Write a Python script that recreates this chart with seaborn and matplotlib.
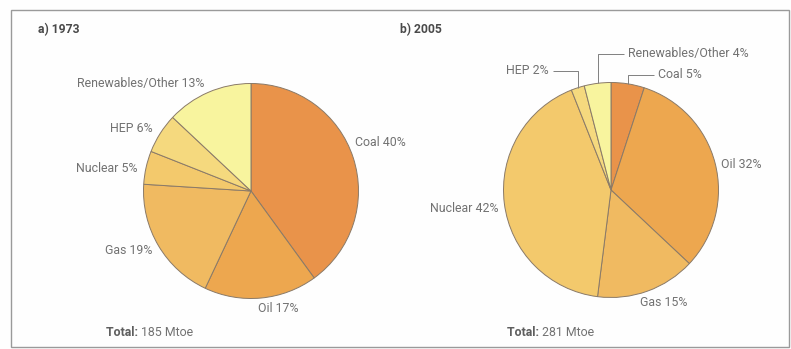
import numpy as np
import matplotlib
matplotlib.use("Agg")
import matplotlib.pyplot as plt
from matplotlib.patches import Rectangle
import seaborn as sns

# ---- data ----
categories = ["Coal", "Oil", "Gas", "Nuclear", "HEP", "Renewables/Other"]
shares_1973 = [40, 17, 19, 5, 6, 13]
shares_2005 = [5, 32, 15, 42, 2, 4]
colors = ["#E9934A", "#EDA74F", "#F0BA61", "#F3C96C", "#F5D97E", "#F8F49E"]
title_1973 = "a) 1973"
title_2005 = "b) 2005"
total_1973 = "185 Mtoe"
total_2005 = "281 Mtoe"

sns.set_theme(style="white")
plt.rcParams["font.family"] = ["Roboto", "DejaVu Sans"]

W, H = 791, 349
fig = plt.figure(figsize=(W / 100, H / 100), dpi=100)
fig.patch.set_facecolor("#fefefe")

TXT = "#727272"
TTL = "#4a4a4a"
FS = 8.9
R = 107.5


def make_ax(cx, cy):
    ax = fig.add_axes([(cx - R) / W, 1 - (cy + R) / H, 2 * R / W, 2 * R / H])
    ax.set_axis_off()
    return ax


def draw_pie(ax, values):
    wedges, _ = ax.pie(values, colors=colors, startangle=90, counterclock=False,
                       radius=1.0,
                       wedgeprops=dict(edgecolor="#8a7a68", linewidth=0.7))
    ax.set_xlim(-1, 1)
    ax.set_ylim(-1, 1)
    return wedges


def lab(ax, x, y, s, ha):
    ax.text(x, y, s, ha=ha, va="center", fontsize=FS, color=TXT, clip_on=False)


def to_data(px, py, cx, cy):
    return (px - cx) / R, (cy - py) / R


# ---- pie a ----
cxa, cya = 251, 191
axa = make_ax(cxa, cya)
draw_pie(axa, shares_1973)

labels_a = [f"{c} {v}%" for c, v in zip(categories, shares_1973)]
pos_a = [(355, 142, "left"), (278, 309, "center"), (152, 250, "right"),
         (138, 169, "right"), (153, 129, "right"), (204, 83, "right")]
for s, (px, py, ha) in zip(labels_a, pos_a):
    x, y = to_data(px, py, cxa, cya)
    lab(axa, x, y, s, ha)

# ---- pie b ----
cxb, cyb = 611, 190
axb = make_ax(cxb, cyb)
wedges_b = draw_pie(axb, shares_2005)

labels_b = [f"{c} {v}%" for c, v in zip(categories, shares_2005)]
pos_b = [(658, 75, "left"), (721, 165, "left"), (664, 303, "center"),
         (498, 209, "right"), (549, 71, "right"), (628, 54, "left")]
for s, (px, py, ha) in zip(labels_b, pos_b):
    x, y = to_data(px, py, cxb, cyb)
    lab(axb, x, y, s, ha)

# leader lines for small wedges (Coal, HEP, Renewables)
for idx in (0, 4, 5):
    w = wedges_b[idx]
    mid = np.deg2rad((w.theta1 + w.theta2) / 2)
    ax0 = np.cos(mid)
    ay0 = np.sin(mid)
    px, py, ha = pos_b[idx]
    lx, ly = to_data(px, py, cxb, cyb)
    gap = 4 / R
    ex = lx - gap if ha == "left" else lx + gap
    axb.plot([ax0, ax0, ex], [ay0, ly, ly], color="#808080", lw=0.7,
             clip_on=False, solid_capstyle="butt")

# ---- titles / totals ----
fig.text(38 / W, 1 - 30 / H, title_1973, fontsize=8.7, fontweight="bold",
         color=TTL, ha="left", va="center")
fig.text(400 / W, 1 - 30 / H, title_2005, fontsize=8.7, fontweight="bold",
         color=TTL, ha="left", va="center")

for x0, tot in ((106, total_1973), (507, total_2005)):
    t = fig.text(x0 / W, 1 - 333 / H, "Total: ", fontsize=FS, fontweight="bold",
                 color="#5e5e5e", ha="left", va="center")
    fig.canvas.draw()
    bb = t.get_window_extent()
    fig.text(bb.x1 / W, 1 - 333 / H, tot, fontsize=FS, color=TXT,
             ha="left", va="center")

# ---- frame ----
fig.patches.append(Rectangle((11 / W, 1 - 347 / H), (789 - 11) / W, (347 - 10) / H,
                             transform=fig.transFigure, fill=False,
                             edgecolor="#9a9a9a", linewidth=1.0))

fig.savefig("out.png", dpi=100, facecolor=fig.get_facecolor())
